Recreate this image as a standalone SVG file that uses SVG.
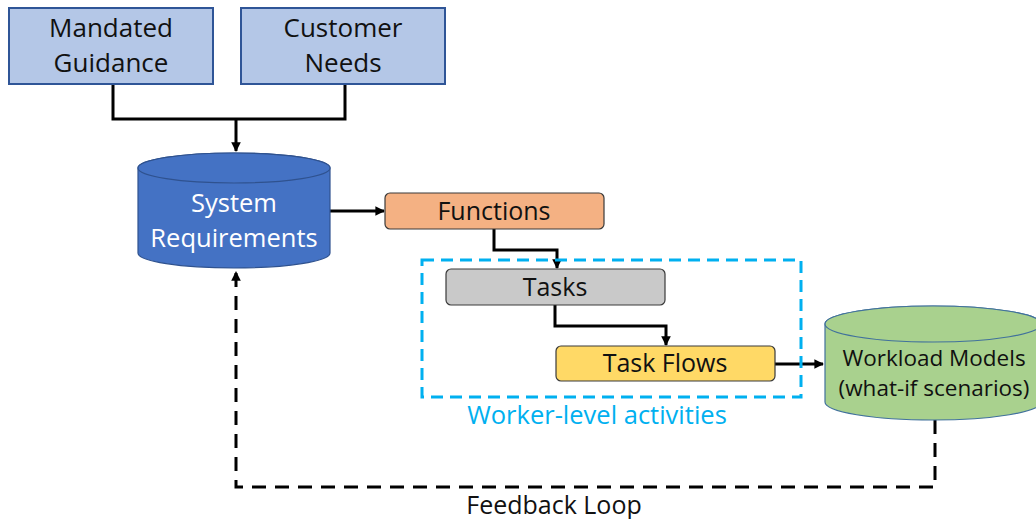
<svg xmlns="http://www.w3.org/2000/svg" width="1036" height="519" viewBox="0 0 1036 519">
<defs>
<marker id="ah" viewBox="0 0 10 10" refX="9" refY="5" markerWidth="3.2" markerHeight="3.2" orient="auto" markerUnits="strokeWidth">
<path d="M0,0 L10,5 L0,10 z" fill="#000"/>
</marker>
<style>
text{font-family:"Open Sans","Noto Sans","Liberation Sans",sans-serif;text-anchor:middle}
.src rect{fill:#b4c7e7;stroke:#2f5597;stroke-width:2}
.src text{font-size:26px;fill:#111}
.conn{fill:none;stroke:#000;stroke-width:3}
.dash{fill:none;stroke:#000;stroke-width:3;stroke-dasharray:14 9}
.proc rect{stroke:#3a3a3a;stroke-width:1.2}
.proc text{font-size:25px;fill:#111}
</style>
</defs>
<rect width="1036" height="519" fill="#fff"/>
<g id="connectors">
<path class="conn" d="M113,84 V119 H345 V84"/>
<path class="conn" d="M236,119 V151" marker-end="url(#ah)"/>
<path class="conn" d="M330,211 H384" marker-end="url(#ah)"/>
<path class="conn" d="M494,229 V250 H557 V268" marker-end="url(#ah)"/>
<path class="conn" d="M555,305 V326 H666 V345" marker-end="url(#ah)"/>
<path class="conn" d="M775,364 H823" marker-end="url(#ah)"/>
<path class="dash" d="M935,420 V487 H236 V272" marker-end="url(#ah)"/>
</g>
<g id="worker-group">
<rect x="422" y="260" width="379" height="137" fill="none" stroke="#00b0f0" stroke-width="3" stroke-dasharray="12 7"/>
<text x="597" y="424" font-size="25.5" fill="#00b0f0">Worker-level activities</text>
</g>
<g id="mandated" class="src">
<rect x="9" y="8" width="204" height="76"/>
<text x="111" y="37">Mandated</text>
<text x="111" y="72">Guidance</text>
</g>
<g id="customer" class="src">
<rect x="241" y="8" width="204" height="76"/>
<text x="343" y="37">Customer</text>
<text x="343" y="72">Needs</text>
</g>
<g id="sysreq">
<path d="M138,168 V253 A96,15 0 0 0 330,253 V168 A96,15 0 0 0 138,168 Z" fill="#4472c4" stroke="#2f528f" stroke-width="1.2"/>
<ellipse cx="234" cy="168" rx="96" ry="15" fill="#4472c4" stroke="#2f528f" stroke-width="1.2"/>
<text x="234" y="212" font-size="25.5" fill="#fff">System</text>
<text x="234" y="247" font-size="25.5" fill="#fff">Requirements</text>
</g>
<g id="functions" class="proc">
<rect x="385" y="193" width="219" height="36" rx="5" fill="#f4b183"/>
<text x="494" y="220">Functions</text>
</g>
<g id="tasks" class="proc">
<rect x="446" y="269" width="219" height="36" rx="5" fill="#c9c9c9"/>
<text x="555" y="296">Tasks</text>
</g>
<g id="taskflows" class="proc">
<rect x="556" y="346" width="219" height="35" rx="5" fill="#ffd966"/>
<text x="665" y="372">Task Flows</text>
</g>
<g id="workload">
<path d="M825,324 V402 A108,18 0 0 0 1041,402 V324 A108,18 0 0 0 825,324 Z" fill="#a9d18e" stroke="#41719c" stroke-width="1.2"/>
<ellipse cx="933" cy="324" rx="108" ry="18" fill="#a9d18e" stroke="#41719c" stroke-width="1.2"/>
<text x="934" y="366" font-size="22.5" fill="#111">Workload Models</text>
<text x="934" y="396" font-size="22.5" fill="#111">(what-if scenarios)</text>
</g>
<g id="feedback-label">
<text x="554" y="514" font-size="25" fill="#111">Feedback Loop</text>
</g>
</svg>
